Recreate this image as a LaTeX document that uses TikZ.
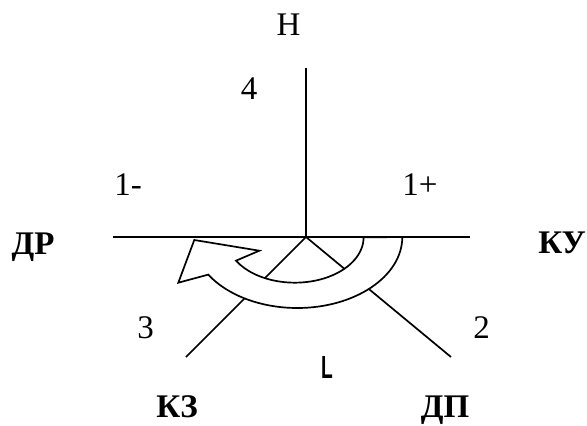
\documentclass[tikz,border=0pt]{standalone}
\usepackage{fontspec}
\setmainfont{Liberation Serif}
\newfontfamily\lsans{Liberation Sans}
\begin{document}
\begin{tikzpicture}[x=1pt,y=-1pt,
  ln/.style={line width=1.7pt},
  lbl/.style={inner sep=0pt,anchor=base,font=\fontsize{33}{38}\selectfont},
  blbl/.style={inner sep=0pt,anchor=base,font=\fontsize{33}{38}\selectfont\bfseries}]
\useasboundingbox (0,0) rectangle (587,426);
% coordinates
\coordinate (O) at (306,237);
\coordinate (Top) at (306,68);
\coordinate (Lft) at (113,237);
\coordinate (Rgt) at (470,237);
\coordinate (LL) at (186,357);
\coordinate (LR) at (451,357);
% axes
\draw[ln] (Lft) -- (Rgt);
\draw[ln] (O) -- (Top);
\draw[ln] (O) -- (LL);
\draw[ln] (O) -- (LR);
% rotation arrow band
\draw[ln,fill=white,line join=miter]
  (402.3,237) arc[start angle=0,end angle=148,x radius=105,y radius=71]
  -- (178.3,282.7) -- (194.3,240) -- (259.3,250.7) -- (236,260.7)
  arc[start angle=149,end angle=0,x radius=68.7,y radius=45.3] -- cycle;
% labels
\node[lbl] (H) at (288.5,35) {Н};
\node[lbl] (n4) at (249,99) {4};
\node[lbl] (m1) at (128,195) {1-};
\node[lbl] (p1) at (420,195) {1+};
\node[blbl] (DR) at (33,254) {ДР};
\node[blbl] (KU) at (562,253) {КУ};
\node[lbl] (n3) at (145.5,338) {3};
\node[lbl] (n2) at (481.5,338) {2};
\node[inner sep=0pt,anchor=base,xscale=0.6,font=\lsans\bfseries\fontsize{32}{36}\selectfont] (Lg) at (327,378) {L};
\node[blbl] (KZ) at (177,417) {КЗ};
\node[blbl] (DP) at (445,417) {ДП};
\end{tikzpicture}
\end{document}
